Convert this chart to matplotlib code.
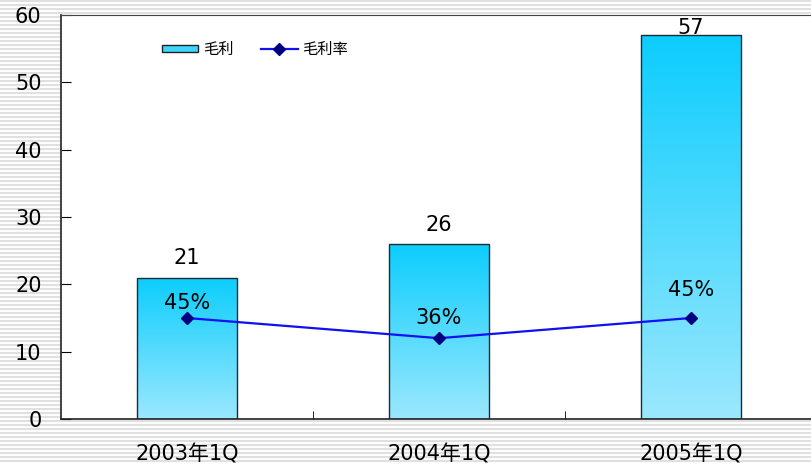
import numpy as np
import matplotlib.pyplot as plt
from matplotlib.colors import LinearSegmentedColormap
from matplotlib.patches import Patch

plt.rcParams['font.family'] = ['DejaVu Sans', 'Noto Sans CJK SC']

categories = ["2003年1Q", "2004年1Q", "2005年1Q"]
gross_profit = [21, 26, 57]
margin_pct = [45, 36, 45]
margin_labels = ["45%", "36%", "45%"]

fig = plt.figure(figsize=(8.11, 4.65), dpi=100)

# striped background
bg = fig.add_axes([0, 0, 1, 1], zorder=-10)
bg.set_xlim(0, 811)
bg.set_ylim(465, 0)
for y in np.arange(1, 465, 4):
    bg.axhline(y, color="#e0e0e0", lw=1.5)
bg.axis("off")

ax = fig.add_axes([61 / 811, 1 - 419 / 465, 756 / 811, 404 / 465])
ax.set_facecolor("white")
x = np.arange(len(categories))
width = 0.4

cmap = LinearSegmentedColormap.from_list("grad", ["#9be8fd", "#0ccdfe"])
grad = np.linspace(0, 1, 256).reshape(-1, 1)
bars = ax.bar(x, gross_profit, width, facecolor="none", edgecolor="#1c2c34",
              linewidth=1.0, zorder=3, label="毛利")
for b in bars:
    x0, y0 = b.get_x(), b.get_y()
    w, h = b.get_width(), b.get_height()
    im = ax.imshow(grad, cmap=cmap, extent=[x0, x0 + w, y0, y0 + h],
                   origin="lower", aspect="auto", zorder=2)
    im.set_clip_path(b)
bar_off = [2.9, 2.8, 1.1]
for xi, v, off in zip(x, gross_profit, bar_off):
    ax.text(xi, v + off, str(v), ha="center", va="center", fontsize=15)

ax.set_xlim(-0.5, 2.5)
ax.set_ylim(0, 60)
ax.set_yticks(range(0, 61, 10))
ax.set_xticks(x)
ax.set_xticklabels(categories, fontsize=15)
ax.set_xticks([0.5, 1.5], minor=True)
ax.tick_params(axis="y", direction="in", length=7, labelsize=15, pad=14)
ax.tick_params(axis="x", which="major", length=0, pad=18)
ax.tick_params(axis="x", which="minor", direction="in", length=6)
for s in ["left", "bottom"]:
    ax.spines[s].set_color("#222222")
    ax.spines[s].set_linewidth(1.2)
ax.spines["top"].set_color("#444444")
ax.spines["right"].set_visible(False)

ax2 = ax.twinx()
ax2.set_ylim(0, 180)
ln, = ax2.plot(x, margin_pct, color="#1010f0", lw=1.6, marker="D",
               markersize=6, markerfacecolor="#000080", markeredgecolor="#000080",
               label="毛利率", zorder=4)
ax2.set_yticks([])
for s in ax2.spines.values():
    s.set_visible(False)
pct_off = [6.6, 9.0, 12.6]
for xi, v, lab, off in zip(x, margin_pct, margin_labels, pct_off):
    ax2.text(xi, v + off, lab, ha="center", va="center", fontsize=15)

handles = [Patch(facecolor="#3fd6fe", edgecolor="#222222", label="毛利"), ln]
ax.legend(handles=handles, loc="center left", bbox_to_anchor=(0.115, 0.915),
          ncol=2, frameon=False, fontsize=11, handlelength=2.4, handleheight=0.4,
          columnspacing=1.8, handletextpad=0.3)

fig.savefig("out.png", dpi=100)
